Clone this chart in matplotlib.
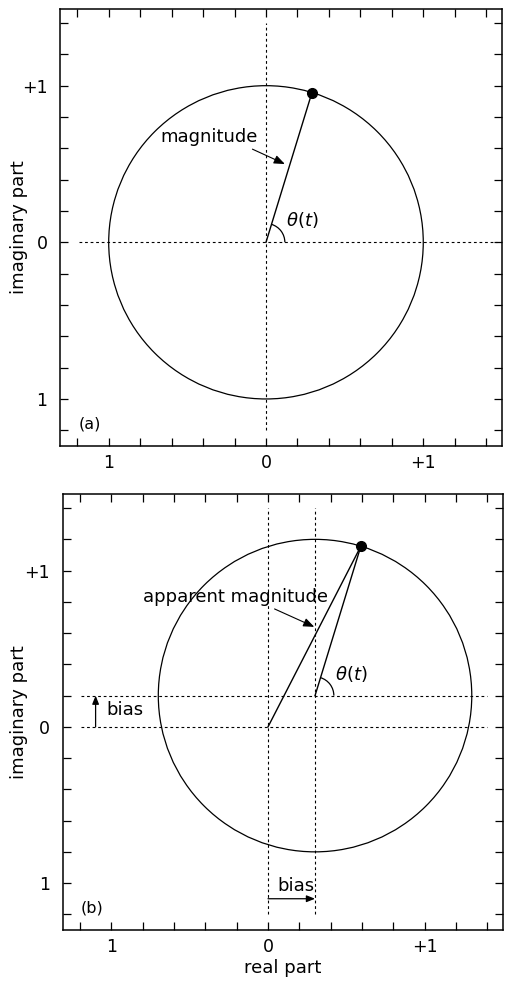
import numpy as np
import matplotlib.pyplot as plt
from matplotlib.patches import Circle, Arc

plt.rcParams['font.family'] = ['DejaVu Sans']
plt.rcParams['mathtext.fontset'] = 'dejavusans'

# data
radius = 1.0
phase_deg = 73.0
bias_re = [0.0, 0.3]      # panel (a), panel (b)
bias_im = [0.0, 0.2]
panel_tags = ["(a)", "(b)"]
tick_pos = [-1.2, -1.0, -0.8, -0.6, -0.4, -0.2, 0.0, 0.2, 0.4, 0.6, 0.8, 1.0, 1.2, 1.4]
tick_text = {-1.0: "1", 0.0: "0", 1.0: "+1"}
mag_labels = ["magnitude", "apparent magnitude"]

fig = plt.figure(figsize=(5.08, 9.81), dpi=100)
ax_a = fig.add_axes([0.118, 0.5454, 0.870, 0.4455])
ax_b = fig.add_axes([0.1234, 0.052, 0.867, 0.4444])

dash = (0, (2.5, 2.5))
fs = 13
arrow_kw = dict(arrowstyle='-|>,head_length=0.5,head_width=0.2',
                color='k', lw=0.8, shrinkA=0, shrinkB=0)
ylab_x = [-0.072, -0.079]

for i, ax in enumerate([ax_a, ax_b]):
    cx, cy = bias_re[i], bias_im[i]
    ax.set_xlim(-1.31, 1.50)
    ax.set_ylim(-1.30, 1.49)

    labels = [tick_text.get(round(t, 1), "") for t in tick_pos]
    ax.set_xticks(tick_pos)
    ax.set_xticklabels(labels)
    ax.set_yticks(tick_pos)
    ax.set_yticklabels(labels)
    ax.tick_params(direction='in', length=6, width=0.9, top=True, right=True,
                   labelsize=12.5)
    ax.tick_params(axis='y', pad=9)
    ax.tick_params(axis='x', pad=6)
    for s in ax.spines.values():
        s.set_linewidth(1.1)

    # dashed axes through origin and through circle centre
    hx_end = 1.47 if i == 0 else 1.40
    ax.plot([-1.19, hx_end], [0, 0], color='k', lw=0.8, ls=dash)
    ax.plot([0, 0], [-1.2, 1.4], color='k', lw=0.8, ls=dash)
    if i == 1:
        ax.plot([-1.19, 1.40], [cy, cy], color='k', lw=0.8, ls=dash)
        ax.plot([cx, cx], [-1.2, 1.4], color='k', lw=0.8, ls=dash)

    ax.add_patch(Circle((cx, cy), radius, fill=False, ec='k', lw=0.9))

    ph = np.deg2rad(phase_deg)
    px = cx + radius * np.cos(ph)
    py = cy + radius * np.sin(ph)
    ax.plot([cx, px], [cy, py], color='k', lw=1.0)
    if i == 1:
        ax.plot([0, px], [0, py], color='k', lw=1.0)
    ax.plot([px], [py], 'o', color='k', ms=7)

    ax.add_patch(Arc((cx, cy), 0.24, 0.24, theta1=0, theta2=phase_deg,
                     color='k', lw=0.9))
    ax.text(cx + 0.23, cy + 0.14, r'$\theta(t)$', fontsize=fs,
            ha='center', va='center')

    ax.text(-1.12, -1.16, panel_tags[i], fontsize=11.5, ha='center', va='center')
    ax.set_ylabel("imaginary part", fontsize=fs)
    ax.yaxis.set_label_coords(ylab_x[i], 0.5)

# magnitude annotations
ax_a.annotate(mag_labels[0], xy=(0.12, 0.50), xytext=(-0.36, 0.67),
              fontsize=fs, ha='center', va='center',
              arrowprops=dict(arrow_kw, relpos=(0.88, 0.0)))
ax_b.annotate(mag_labels[1], xy=(0.295, 0.64), xytext=(-0.21, 0.83),
              fontsize=fs, ha='center', va='center',
              arrowprops=dict(arrow_kw, relpos=(0.68, 0.0)))

# bias arrows in panel (b)
ax_b.annotate("", xy=(-1.10, bias_im[1]), xytext=(-1.10, 0.0),
              arrowprops=dict(arrow_kw, lw=0.9))
ax_b.text(-0.91, 0.105, "bias", fontsize=fs, ha='center', va='center')
ax_b.annotate("", xy=(bias_re[1], -1.10), xytext=(0.0, -1.10),
              arrowprops=dict(arrow_kw, lw=0.9))
ax_b.text(0.175, -1.02, "bias", fontsize=fs, ha='center', va='center')

ax_b.set_xlabel("real part", fontsize=fs, labelpad=2)

fig.savefig("out.png", dpi=100)
